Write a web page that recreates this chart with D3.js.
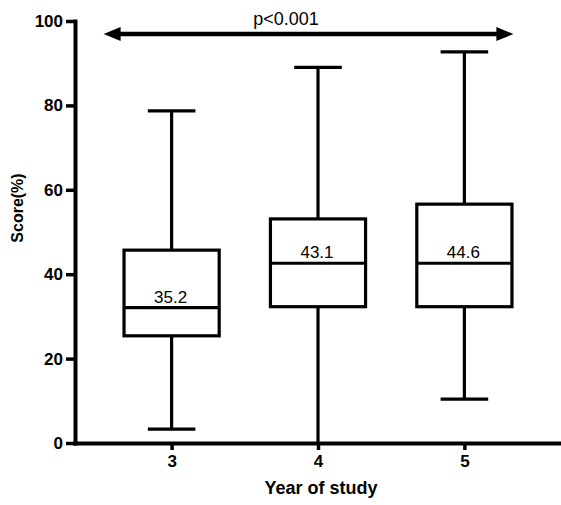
<!DOCTYPE html>
<html>
  <head>
    <script src="https://cdnjs.cloudflare.com/ajax/libs/d3/7.8.5/d3.min.js"></script>
    <style>
      body {
        margin: 0;
        background: #fff;
      }
      text {
        font-family: "Liberation Sans", Arial, sans-serif;
        fill: #000;
      }
    </style>
  </head>
  <body>
    <div id="chart"></div>
    <script>
      // data
      const years = ["3", "4", "5"];
      const whiskerLow = [3.3, 0, 10.4];
      const q1 = [25.4, 32.3, 32.3];
      const median = [32.1, 42.6, 42.6];
      const q3 = [45.7, 53.1, 56.6];
      const whiskerHigh = [78.7, 89.0, 92.7];
      const meanLabels = ["35.2", "43.1", "44.6"];
      const yTicks = [0, 20, 40, 60, 80, 100];
      const pText = "p<0.001";
      const arrowValue = 96.9;

      const width = 561;
      const height = 505;

      const svg = d3
        .select("#chart")
        .append("svg")
        .attr("width", width)
        .attr("height", height);

      // scales
      const y = d3.scaleLinear().domain([0, 100]).range([443, 21]);
      const x = d3.scalePoint().domain(years).range([75, 561]).padding(0.66);
      const boxW = x.step() * 0.65;
      const capW = boxW / 2;

      const boxes = years.map((d, i) => ({
        year: d,
        lo: whiskerLow[i],
        q1: q1[i],
        med: median[i],
        q3: q3[i],
        hi: whiskerHigh[i],
        label: meanLabels[i],
      }));

      // axes
      const yAxis = svg
        .append("g")
        .attr("transform", "translate(75,0)")
        .call(d3.axisLeft(y).tickValues(yTicks).tickSize(9).tickSizeOuter(0).tickPadding(3));

      const xAxis = svg
        .append("g")
        .attr("transform", "translate(0,443)")
        .call(d3.axisBottom(x).tickSize(7).tickSizeOuter(0).tickPadding(5));

      [yAxis, xAxis].forEach((g) => {
        g.select(".domain").attr("stroke-width", 4).attr("stroke-linecap", "square");
        g.selectAll(".tick line").attr("stroke-width", 3.5);
        g.selectAll(".tick text")
          .style("font-size", "17px")
          .style("font-weight", "bold")
          .style("font-family", "'Liberation Sans', Arial, sans-serif");
      });

      // axis titles
      svg
        .append("text")
        .attr("transform", "translate(23,208) rotate(-90)")
        .attr("text-anchor", "middle")
        .style("font-size", "16px")
        .style("font-weight", "bold")
        .text("Score(%)");

      svg
        .append("text")
        .attr("x", 321)
        .attr("y", 494)
        .attr("text-anchor", "middle")
        .style("font-size", "18px")
        .style("font-weight", "bold")
        .text("Year of study");

      // box plots
      const g = svg
        .selectAll(".box")
        .data(boxes)
        .enter()
        .append("g")
        .attr("class", "box")
        .attr("fill", "none")
        .attr("stroke", "#000")
        .attr("stroke-width", 3.2);

      // whisker lines
      g.append("line")
        .attr("x1", (d) => x(d.year))
        .attr("x2", (d) => x(d.year))
        .attr("y1", (d) => y(d.q3))
        .attr("y2", (d) => y(d.hi));
      g.append("line")
        .attr("x1", (d) => x(d.year))
        .attr("x2", (d) => x(d.year))
        .attr("y1", (d) => y(d.q1))
        .attr("y2", (d) => y(d.lo));

      // caps
      g.append("line")
        .attr("x1", (d) => x(d.year) - capW / 2)
        .attr("x2", (d) => x(d.year) + capW / 2)
        .attr("y1", (d) => y(d.hi))
        .attr("y2", (d) => y(d.hi));
      g.filter((d) => d.lo > 0)
        .append("line")
        .attr("x1", (d) => x(d.year) - capW / 2)
        .attr("x2", (d) => x(d.year) + capW / 2)
        .attr("y1", (d) => y(d.lo))
        .attr("y2", (d) => y(d.lo));

      // box
      g.append("rect")
        .attr("x", (d) => x(d.year) - boxW / 2)
        .attr("width", boxW)
        .attr("y", (d) => y(d.q3))
        .attr("height", (d) => y(d.q1) - y(d.q3))
        .attr("fill", "#fff");

      // median
      g.append("line")
        .attr("x1", (d) => x(d.year) - boxW / 2)
        .attr("x2", (d) => x(d.year) + boxW / 2)
        .attr("y1", (d) => y(d.med))
        .attr("y2", (d) => y(d.med));

      // mean labels
      svg
        .selectAll(".mean")
        .data(boxes)
        .enter()
        .append("text")
        .attr("class", "mean")
        .attr("x", (d) => x(d.year) - 1)
        .attr("y", (d) => y(d.med) - 5)
        .attr("text-anchor", "middle")
        .style("font-size", "17px")
        .text((d) => d.label);

      // significance arrow
      const ay = y(arrowValue);
      const ax1 = x("3") - 68;
      const ax2 = x("5") + 49;
      const head = 17;
      svg
        .append("line")
        .attr("x1", ax1 + head - 2)
        .attr("x2", ax2 - head + 2)
        .attr("y1", ay)
        .attr("y2", ay)
        .attr("stroke", "#000")
        .attr("stroke-width", 4.5);
      svg
        .append("path")
        .attr("d", `M${ax1},${ay} L${ax1 + head},${ay - 7} L${ax1 + head},${ay + 7} Z`)
        .attr("fill", "#000");
      svg
        .append("path")
        .attr("d", `M${ax2},${ay} L${ax2 - head},${ay - 7} L${ax2 - head},${ay + 7} Z`)
        .attr("fill", "#000");

      svg
        .append("text")
        .attr("x", 286)
        .attr("y", 25)
        .attr("text-anchor", "middle")
        .style("font-size", "18px")
        .text(pText);
    </script>
  </body>
</html>
